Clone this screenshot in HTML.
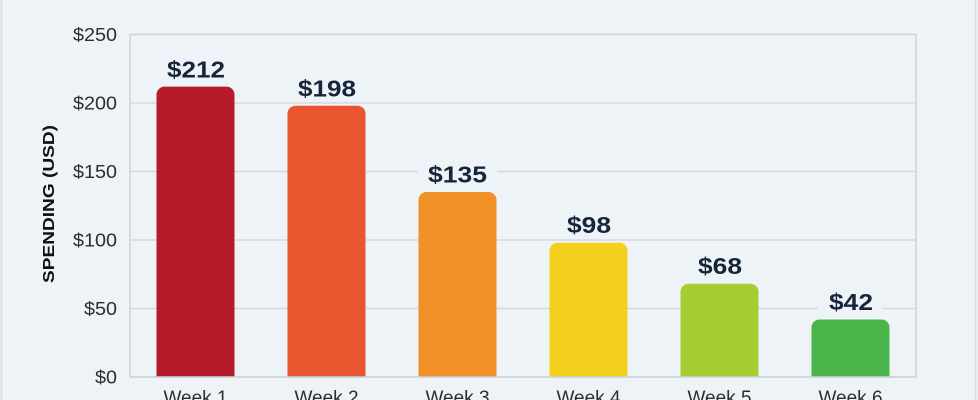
<!DOCTYPE html>
<html><head><meta charset="utf-8"><style>
html,body{margin:0;padding:0;background:#eef3f7;}
svg{display:block;}
</style></head><body>
<svg width="978" height="400" viewBox="0 0 978 400" xmlns="http://www.w3.org/2000/svg" font-family="Liberation Sans, sans-serif">
<rect x="0" y="0" width="978" height="400" fill="#e9eef2"/>
<rect x="1.5" y="-2" width="974" height="410" fill="#eef3f7" stroke="#d6dde4" stroke-width="1.5"/>
<!-- gridlines -->
<g stroke="#d3d9e0" stroke-width="1.5">
<line x1="130" y1="308.5" x2="916" y2="308.5"/>
<line x1="130" y1="240" x2="916" y2="240"/>
<line x1="130" y1="171.5" x2="916" y2="171.5"/>
<line x1="130" y1="103" x2="916" y2="103"/>
</g>
<path d="M130 377 V34.5 H916 V377 Z" fill="none" stroke="#ccd3db" stroke-width="1.5"/>
<!-- y ticks -->
<g font-size="18.5" fill="#2e2e2e" text-anchor="end">
<text x="117" y="383.5" textLength="22" lengthAdjust="spacingAndGlyphs">$0</text>
<text x="117" y="315" textLength="33" lengthAdjust="spacingAndGlyphs">$50</text>
<text x="117" y="246.5" textLength="44" lengthAdjust="spacingAndGlyphs">$100</text>
<text x="117" y="178" textLength="44" lengthAdjust="spacingAndGlyphs">$150</text>
<text x="117" y="109.5" textLength="44" lengthAdjust="spacingAndGlyphs">$200</text>
<text x="117" y="41" textLength="44" lengthAdjust="spacingAndGlyphs">$250</text>
</g>
<text transform="translate(54,204) rotate(-90)" text-anchor="middle" font-size="16" font-weight="bold" fill="#111" textLength="158" lengthAdjust="spacingAndGlyphs">SPENDING (USD)</text>
<!-- bars -->
<path d="M156.5 377 V94.6 a8 8 0 0 1 8 -8 H226.5 a8 8 0 0 1 8 8 V377 Z" fill="#b51b2a"/>
<path d="M287.5 377 V113.7 a8 8 0 0 1 8 -8 H357.5 a8 8 0 0 1 8 8 V377 Z" fill="#e8552f"/>
<path d="M418.5 377 V200 a8 8 0 0 1 8 -8 H488.5 a8 8 0 0 1 8 8 V377 Z" fill="#f09128"/>
<path d="M549.5 377 V250.7 a8 8 0 0 1 8 -8 H619.5 a8 8 0 0 1 8 8 V377 Z" fill="#f4d01e"/>
<path d="M680.5 377 V291.8 a8 8 0 0 1 8 -8 H750.5 a8 8 0 0 1 8 8 V377 Z" fill="#a7cd33"/>
<path d="M811.5 377 V327.5 a8 8 0 0 1 8 -8 H881.5 a8 8 0 0 1 8 8 V377 Z" fill="#4bb44a"/>
<line x1="130" y1="377" x2="916" y2="377" stroke="#ccd3db" stroke-width="1.5"/>
<!-- value labels -->
<g fill="#eef3f7">
<rect x="157" y="54" width="78" height="29"/>
<rect x="288" y="73" width="78" height="29"/>
<rect x="418" y="159" width="79" height="29"/>
<rect x="556" y="210" width="65" height="29"/>
<rect x="687" y="251" width="65" height="29"/>
<rect x="818" y="287" width="65" height="29"/>
</g>
<g font-size="23" font-weight="bold" fill="#17253a" text-anchor="middle">
<text x="196" y="77.5" textLength="58" lengthAdjust="spacingAndGlyphs">$212</text>
<text x="327" y="96.5" textLength="58" lengthAdjust="spacingAndGlyphs">$198</text>
<text x="457.5" y="182.5" textLength="59" lengthAdjust="spacingAndGlyphs">$135</text>
<text x="589" y="233" textLength="44" lengthAdjust="spacingAndGlyphs">$98</text>
<text x="720" y="274" textLength="44" lengthAdjust="spacingAndGlyphs">$68</text>
<text x="851" y="310" textLength="44" lengthAdjust="spacingAndGlyphs">$42</text>
</g>
<!-- x labels -->
<g font-size="19" fill="#2e2e2e" text-anchor="middle">
<text x="195.5" y="404">Week 1</text>
<text x="326.5" y="404">Week 2</text>
<text x="457.5" y="404">Week 3</text>
<text x="588.5" y="404">Week 4</text>
<text x="719.5" y="404">Week 5</text>
<text x="850.5" y="404">Week 6</text>
</g>
</svg>
</body></html>
